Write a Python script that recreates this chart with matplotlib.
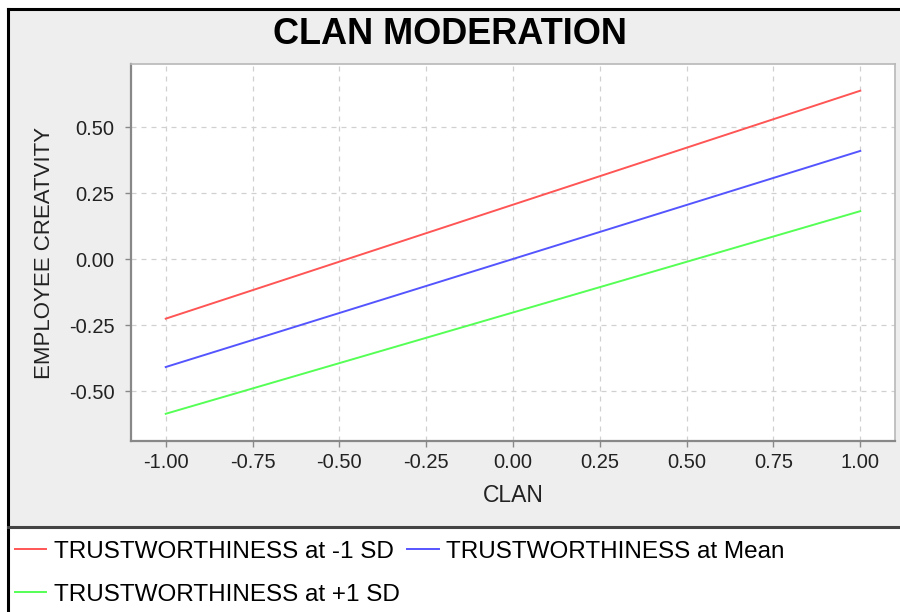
import matplotlib
matplotlib.use("Agg")
import matplotlib.pyplot as plt
from matplotlib.patches import Rectangle
from matplotlib.lines import Line2D

plt.rcParams['font.family'] = ['Liberation Sans', 'DejaVu Sans']

# data
clan = [-1.0, 1.0]
trust_low = [-0.225, 0.638]
trust_mean = [-0.408, 0.410]
trust_high = [-0.585, 0.182]
series_labels = ['TRUSTWORTHINESS at -1 SD', 'TRUSTWORTHINESS at Mean',
                 'TRUSTWORTHINESS at +1 SD']
x_ticks = [-1.0, -0.75, -0.5, -0.25, 0.0, 0.25, 0.5, 0.75, 1.0]
y_ticks = [-0.5, -0.25, 0.0, 0.25, 0.5]

W, H = 900, 612
fig = plt.figure(figsize=(9, 6.12), dpi=100)
fig.patch.set_facecolor('white')

def fx(px):
    return px / W

def fy(py):
    return 1 - py / H

# chart background and legend panel
fig.patches.append(Rectangle((fx(8), fy(527)), fx(900) - fx(8), fy(9) - fy(527),
                             transform=fig.transFigure, facecolor='#eeeeee',
                             edgecolor='none', zorder=-5))
fig.add_artist(Line2D([fx(8), fx(8)], [fy(9), fy(612)], color='black', lw=2.2))
fig.add_artist(Line2D([fx(8), fx(900)], [fy(9), fy(9)], color='black', lw=2.2))
fig.add_artist(Line2D([fx(8), fx(900)], [fy(527), fy(527)], color='#444444', lw=2.2))

ax = fig.add_axes([fx(131), fy(441), fx(895) - fx(131), fy(64) - fy(441)])
ax.set_zorder(2)
ax.set_facecolor('white')

l1, = ax.plot(clan, trust_low, color='#ff5555', lw=1.4, label=series_labels[0])
l2, = ax.plot(clan, trust_mean, color='#5555ff', lw=1.4, label=series_labels[1])
l3, = ax.plot(clan, trust_high, color='#55ff55', lw=1.4, label=series_labels[2])

ax.set_xlim(-1.1, 1.1)
ax.set_ylim(-0.688, 0.739)
ax.set_xticks(x_ticks)
ax.set_yticks(y_ticks)
ax.set_xticklabels([f'{v:.2f}' for v in x_ticks])
ax.set_yticklabels([f'{v:.2f}' for v in y_ticks])
ax.grid(True, color='#d0d0d0', linestyle=(0, (4, 4)), lw=0.9)
ax.set_axisbelow(True)

for side in ['top', 'right']:
    ax.spines[side].set_color('#b8b8b8')
    ax.spines[side].set_linewidth(1.2)
for side in ['left', 'bottom']:
    ax.spines[side].set_color('#888888')
    ax.spines[side].set_linewidth(1.6)
ax.tick_params(length=4, width=1, color='#888888', labelsize=14.5,
               labelcolor='#222222')
ax.tick_params(axis='x', pad=5)
ax.tick_params(axis='y', pad=8)

ax.set_xlabel('CLAN', fontsize=16.5, labelpad=8, color='#222222')
ax.set_ylabel('EMPLOYEE CREATVITY', fontsize=16, labelpad=10, color='#222222')

fig.text(0.5, fy(35), 'CLAN MODERATION', ha='center', va='center',
         fontsize=26, fontweight='bold')

# column-major fill in matplotlib, so reorder to get the row-wise flow layout
fig.legend([l1, l3, l2], [series_labels[0], series_labels[2], series_labels[1]],
           loc='upper left', bbox_to_anchor=(fx(10), fy(536)),
           ncol=2, frameon=False, fontsize=17.5, handlelength=1.3,
           handletextpad=0.3, columnspacing=0.3, labelspacing=0.85,
           borderaxespad=0, borderpad=0.2)

fig.savefig('out.png', dpi=100)
